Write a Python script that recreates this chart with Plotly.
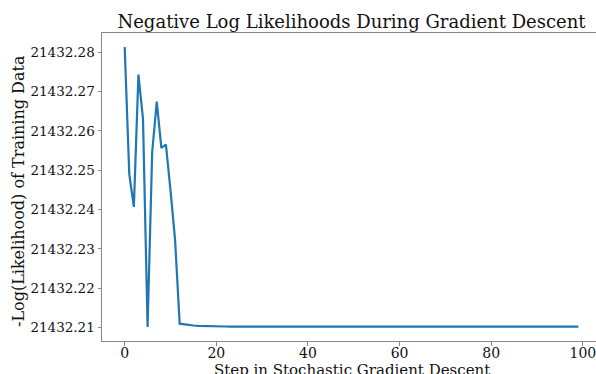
import plotly.graph_objects as go

steps = list(range(100))
neg_log_likelihood = [
    21432.28135, 21432.24912, 21432.24071, 21432.27436, 21432.26301,
    21432.21017, 21432.25459, 21432.26746, 21432.25569, 21432.25653,
    21432.24492, 21432.23230, 21432.21101, 21432.21080, 21432.21066,
    21432.21055, 21432.21048, 21432.21042, 21432.21038, 21432.21035,
    21432.21033, 21432.21031, 21432.21030, 21432.21029, 21432.21028,
    21432.21028, 21432.21027, 21432.21027, 21432.21027, 21432.21026,
    21432.21026, 21432.21026, 21432.21026, 21432.21026, 21432.21026,
    21432.21026, 21432.21026, 21432.21026, 21432.21026, 21432.21026,
    21432.21026, 21432.21026, 21432.21026, 21432.21026, 21432.21026,
    21432.21026, 21432.21026, 21432.21026, 21432.21026, 21432.21026,
    21432.21026, 21432.21026, 21432.21026, 21432.21026, 21432.21026,
    21432.21026, 21432.21026, 21432.21026, 21432.21026, 21432.21026,
    21432.21026, 21432.21026, 21432.21026, 21432.21026, 21432.21026,
    21432.21026, 21432.21026, 21432.21026, 21432.21026, 21432.21026,
    21432.21026, 21432.21026, 21432.21026, 21432.21026, 21432.21026,
    21432.21026, 21432.21026, 21432.21026, 21432.21026, 21432.21026,
    21432.21026, 21432.21026, 21432.21026, 21432.21026, 21432.21026,
    21432.21026, 21432.21026, 21432.21026, 21432.21026, 21432.21026,
    21432.21026, 21432.21026, 21432.21026, 21432.21026, 21432.21026,
    21432.21026, 21432.21026, 21432.21026, 21432.21026, 21432.21026,
]
x_ticks = [0, 20, 40, 60, 80, 100]
y_ticks = [21432.21, 21432.22, 21432.23, 21432.24, 21432.25, 21432.26, 21432.27, 21432.28]
y_tick_labels = ["21432.21", "21432.22", "21432.23", "21432.24",
                 "21432.25", "21432.26", "21432.27", "21432.28"]

title_text = "Negative Log Likelihoods During Gradient Descent"
x_title = "Step in Stochastic Gradient Descent"
y_title = "-Log(Likelihood) of Training Data"

FONT = "DejaVu Serif"
AXIS_COLOR = "#888888"

ymin, ymax = min(neg_log_likelihood), max(neg_log_likelihood)
ypad = 0.05 * (ymax - ymin)
xpad = 0.05 * (steps[-1] - steps[0])

fig = go.Figure()
fig.add_trace(go.Scatter(
    x=steps, y=neg_log_likelihood, mode="lines",
    line=dict(color="#1f77b4", width=2.2),
    showlegend=False,
))

fig.update_layout(
    width=601, height=374,
    margin=dict(l=102, r=0, t=33, b=33, autoexpand=False),
    plot_bgcolor="white", paper_bgcolor="white",
    font=dict(family=FONT, size=14, color="#111111"),
    title=dict(text=title_text, font=dict(family=FONT, size=18, color="#111111"),
               x=0.5, xref="paper", xanchor="center",
               y=1 - 22 / 374, yref="container", yanchor="middle"),
    annotations=[
        dict(text=x_title, xref="paper", yref="paper", x=0.5, y=0,
             yshift=-18, xanchor="center", yanchor="top", showarrow=False,
             font=dict(family=FONT, size=15, color="#111111")),
        dict(text=y_title, xref="paper", yref="paper", x=0, xshift=-84,
             y=0.5, yshift=-4, xanchor="center", yanchor="middle", textangle=-90,
             showarrow=False, font=dict(family=FONT, size=16, color="#111111")),
    ],
)

fig.update_xaxes(
    range=[steps[0] - xpad, steps[-1] + xpad], automargin=False,
    tickmode="array", tickvals=x_ticks, ticktext=[str(v) for v in x_ticks],
    showgrid=False, zeroline=False,
    showline=True, linecolor=AXIS_COLOR, linewidth=1, mirror=True,
    ticks="outside", ticklen=3.5, tickcolor=AXIS_COLOR,
    ticklabelstandoff=-4,
    tickfont=dict(family=FONT, size=14, color="#111111"),
)
fig.update_yaxes(
    range=[ymin - ypad, ymax + ypad], automargin=False,
    tickmode="array", tickvals=y_ticks, ticktext=y_tick_labels,
    showgrid=False, zeroline=False,
    showline=True, linecolor=AXIS_COLOR, linewidth=1, mirror=True,
    ticks="outside", ticklen=3.5, tickcolor=AXIS_COLOR,
    tickfont=dict(family=FONT, size=13.5, color="#111111"),
)

fig.write_html(
    "out.html",
    config={"displayModeBar": False},
    post_script=("document.body.style.margin='0';document.body.style.padding='0';"
                 "document.body.style.overflow='hidden';"
                 "document.documentElement.style.overflow='hidden';"),
)
